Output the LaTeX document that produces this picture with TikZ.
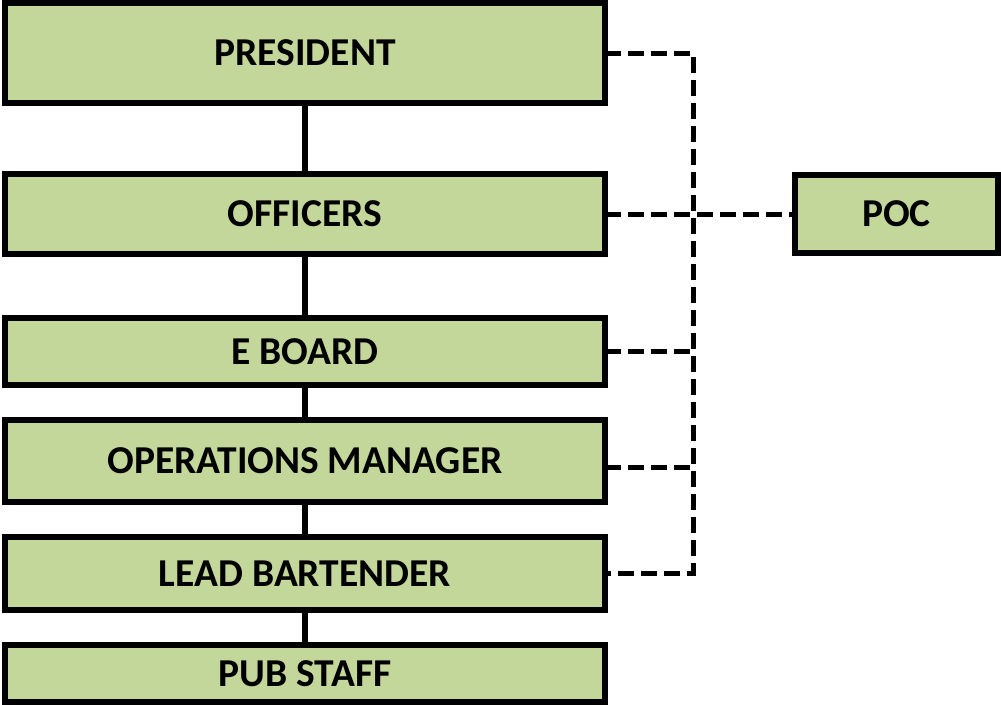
\documentclass[tikz,border=0pt]{standalone}
\usepackage{fontspec}
\setmainfont{Carlito}
\usepackage{tikz}
\usetikzlibrary{positioning}
\definecolor{boxgreen}{HTML}{C4D79B}

\begin{document}
\begin{tikzpicture}[x=1pt, y=-1pt,
  box/.style={draw, fill=boxgreen, line width=6pt, outer sep=0pt, inner sep=0pt,
    minimum width=600.5pt, font=\fontsize{39.5}{44}\selectfont\bfseries},
  link/.style={line width=5.5pt},
  dashlink/.style={line width=5pt, dash pattern=on 16pt off 7pt}]
\useasboundingbox (0,0) rectangle (1001,704);
\node[box, minimum height=100.5pt] (president) at (305,53) {PRESIDENT};
\node[box, minimum height=80pt] (officers) at (305,214) {OFFICERS};
\node[box, minimum height=67pt] (eboard) at (305,351.5) {E BOARD};
\node[box, minimum height=82.5pt] (opsmgr) at (305,461) {OPERATIONS MANAGER};
\node[box, minimum height=73pt] (leadbar) at (305,573.5) {LEAD BARTENDER};
\node[box, minimum height=57pt] (pubstaff) at (305,673.5) {PUB STAFF};
\node[box, minimum width=203pt, minimum height=78pt] (poc) at (896.5,214) {POC};
\coordinate (bus) at (693,0);

\draw[link] (president) -- (officers) -- (eboard) -- (opsmgr) -- (leadbar) -- (pubstaff);

\draw[dashlink] (president.east) -- (president.east -| bus) -- (leadbar.east -| bus) -- (leadbar.east);
\draw[dashlink] (officers.east) -- (poc.west);
\draw[dashlink] (eboard.east) -- (eboard.east -| bus);
\draw[dashlink] ([yshift=-6pt]opsmgr.east) -- ([yshift=-6pt]opsmgr.east -| bus);
\end{tikzpicture}
\end{document}
